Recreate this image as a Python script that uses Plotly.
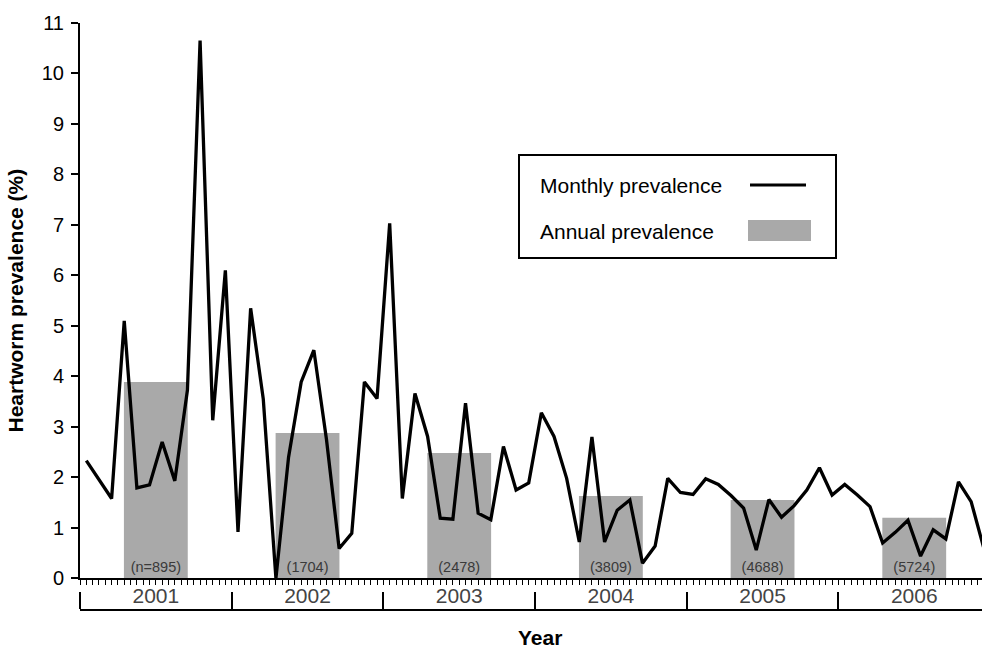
import plotly.graph_objects as go

# ---------------- data ----------------
years = ["2001", "2002", "2003", "2004", "2005", "2006"]

monthly_2001 = [2.33, 1.96, 1.58, 5.10, 1.79, 1.85, 2.70, 1.93, 3.73, 10.65, 3.13, 6.10]
monthly_2002 = [0.92, 5.35, 3.55, 0.00, 2.40, 3.89, 4.52, 2.75, 0.59, 0.89, 3.89, 3.56]
monthly_2003 = [7.03, 1.58, 3.66, 2.81, 1.19, 1.17, 3.47, 1.29, 1.16, 2.61, 1.75, 1.89]
monthly_2004 = [3.28, 2.81, 1.98, 0.72, 2.80, 0.72, 1.35, 1.55, 0.30, 0.64, 1.98, 1.70]
monthly_2005 = [1.66, 1.97, 1.86, 1.64, 1.39, 0.56, 1.56, 1.21, 1.44, 1.75, 2.19, 1.65]
monthly_2006 = [1.86, 1.65, 1.42, 0.70, 0.91, 1.15, 0.44, 0.96, 0.78, 1.91, 1.52, 0.60]

annual = [3.89, 2.88, 2.48, 1.63, 1.55, 1.20]
sample_labels = ["(n=895)", "(1704)", "(2478)", "(3809)", "(4688)", "(5724)"]

monthly = (monthly_2001 + monthly_2002 + monthly_2003 +
           monthly_2004 + monthly_2005 + monthly_2006)

# x positions in months from Jan 2001 (month mid-points / year centres)
x_month = [i + 0.5 for i in range(len(monthly))]
x_year = [i * 12 + 6 for i in range(len(years))]
x_sep = [i * 12 for i in range(len(years))]

# ---------------- layout geometry ----------------
W, H = 982, 652
L, R, T, B = 80, 0, 23, 42
PW, PH = W - L - R, H - T - B
X_RANGE = [0, 71.36]
Y_DOM0 = (H - B - 578.3) / PH

FONT = "Liberation Sans, Arial, Helvetica, sans-serif"
BAR_GRAY = "#a9a9a9"


def px_x(p):
    return (p - L) / PW


def px_y(p):
    return (H - B - p) / PH


fig = go.Figure()

fig.add_trace(go.Bar(
    x=x_year, y=annual, width=5.05,
    marker=dict(color=BAR_GRAY, line=dict(width=0)),
    text=sample_labels, textposition="inside", insidetextanchor="start",
    textangle=0, constraintext="none",
    textfont=dict(size=14.5, color="#3a3a3a", family=FONT),
    showlegend=False, hoverinfo="skip",
))

fig.add_trace(go.Scatter(
    x=x_month, y=monthly, mode="lines",
    line=dict(color="black", width=3.3),
    xaxis="x2", yaxis="y",
    showlegend=False,
))

fig.update_layout(
    width=W, height=H,
    margin=dict(l=L, r=R, t=T, b=B),
    paper_bgcolor="white", plot_bgcolor="white",
    font=dict(family=FONT, color="black"),
    showlegend=False,
    xaxis=dict(
        range=X_RANGE, showline=True, linewidth=2, linecolor="black",
        ticks="outside", tickmode="linear", tick0=0, dtick=0.5,
        ticklen=5, tickwidth=1.3, tickcolor="black",
        showticklabels=False, showgrid=False, zeroline=False,
    ),
    xaxis2=dict(
        range=X_RANGE, overlaying="x", anchor="free", position=0,
        side="bottom",
        showline=True, linewidth=2, linecolor="black",
        tickmode="array", tickvals=x_year, ticktext=years, ticks="",
        ticklabelposition="inside", ticklabelstandoff=3,
        tickfont=dict(size=21, family=FONT),
        minor=dict(ticks="inside", tickmode="array", tickvals=x_sep,
                   ticklen=17, tickwidth=2, tickcolor="black", showgrid=False),
        showgrid=False, zeroline=False,
    ),
    yaxis=dict(
        domain=[Y_DOM0, 1], range=[0, 11], tickmode="linear", tick0=0, dtick=1,
        showline=True, linewidth=2, linecolor="black",
        ticks="outside", ticklen=7, tickwidth=2, tickcolor="black",
        ticklabelstandoff=3,
        tickfont=dict(size=20, family=FONT),
        showgrid=False, zeroline=False,
        title=dict(text="<b>Heartworm prevalence (%)</b>",
                   font=dict(size=21, family=FONT), standoff=12),
    ),
)

# x-axis title
fig.add_annotation(
    text="<b>Year</b>", xref="paper", yref="paper",
    x=px_x(540), y=px_y(637), xanchor="center", yanchor="middle",
    showarrow=False, font=dict(size=21, family=FONT),
)

# custom legend (text left, symbol right)
fig.add_shape(type="rect", xref="paper", yref="paper",
              x0=px_x(519), x1=px_x(836), y0=px_y(258), y1=px_y(155),
              line=dict(color="black", width=2), fillcolor="white", layer="above")
fig.add_shape(type="line", xref="paper", yref="paper",
              x0=px_x(750), x1=px_x(806), y0=px_y(185), y1=px_y(185),
              line=dict(color="black", width=3), layer="above")
fig.add_shape(type="rect", xref="paper", yref="paper",
              x0=px_x(748), x1=px_x(811), y0=px_y(241), y1=px_y(220),
              line=dict(width=0), fillcolor=BAR_GRAY, layer="above")
fig.add_annotation(text="Monthly prevalence", xref="paper", yref="paper",
                   x=px_x(538), y=px_y(185), xanchor="left", yanchor="middle",
                   showarrow=False, font=dict(size=21, family=FONT))
fig.add_annotation(text="Annual prevalence", xref="paper", yref="paper",
                   x=px_x(538), y=px_y(231), xanchor="left", yanchor="middle",
                   showarrow=False, font=dict(size=21, family=FONT))

fig.write_html("out.html")
